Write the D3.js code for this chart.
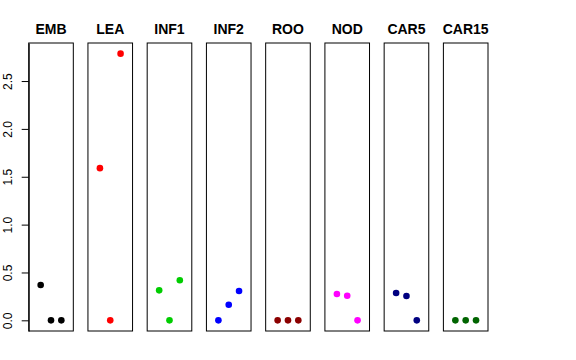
<!DOCTYPE html>
<html>
<head>
<meta charset="utf-8">
<script src="https://cdn.jsdelivr.net/npm/d3@7"></script>
<style>
  body { margin: 0; background: #fff; }
  text { font-family: "Liberation Sans", Arial, Helvetica, sans-serif; }
</style>
</head>
<body>
<div id="chart"></div>
<script>
// panels and their three values each
var panels = ["EMB", "LEA", "INF1", "INF2", "ROO", "NOD", "CAR5", "CAR15"];
var colors = ["#000000", "#FF0000", "#00CD00", "#0000FF", "#8B0000", "#FF00FF", "#000080", "#006400"];
var values = [
  [0.369, 0, 0],
  [1.59, 0, 2.786],
  [0.313, 0, 0.418],
  [0, 0.163, 0.306],
  [0, 0, 0],
  [0.275, 0.257, 0],
  [0.285, 0.254, 0],
  [0, 0, 0]
];
var yTicks = [0, 0.5, 1, 1.5, 2, 2.5];

var width = 576, height = 360;

var svg = d3.select("#chart")
  .append("svg")
    .attr("width", width)
    .attr("height", height);

// panel positions
var xp = d3.scaleBand()
    .domain(panels)
    .range([28.7, 488])
    .paddingInner(0.247)
    .paddingOuter(0);

// inside each panel: points at 1,2,3 on a 0..4 range (4% expanded)
var xi = d3.scaleLinear()
    .domain([-0.16, 4.16])
    .range([0, xp.bandwidth()]);

var y = d3.scaleLinear()
    .domain([-0.1115, 2.8975])
    .range([331, 43]);

// y axis on the left of the first panel
var yAxis = svg.append("g")
    .attr("transform", "translate(" + xp(panels[0]) + ",0)")
    .call(d3.axisLeft(y).tickValues(yTicks).tickFormat(d3.format(".1f")).tickSize(7).tickSizeOuter(0));
yAxis.select(".domain").attr("stroke", "#000");
yAxis.selectAll(".tick line").attr("stroke", "#000");
yAxis.selectAll(".tick text")
    .attr("font-size", 12)
    .attr("fill", "#000")
    .attr("text-anchor", "middle")
    .attr("transform", "rotate(-90)")
    .attr("x", 0)
    .attr("y", -17)
    .attr("dy", 0);

var g = svg.selectAll(".panel")
  .data(panels)
  .enter()
  .append("g")
    .attr("class", "panel")
    .attr("transform", function(d) { return "translate(" + xp(d) + ",0)"; });

g.append("rect")
    .attr("x", 0)
    .attr("y", y.range()[1])
    .attr("width", xp.bandwidth())
    .attr("height", y.range()[0] - y.range()[1])
    .attr("fill", "none")
    .attr("stroke", "#000")
    .attr("stroke-width", 1);

g.append("text")
    .attr("x", xp.bandwidth() / 2)
    .attr("y", 34)
    .attr("text-anchor", "middle")
    .attr("font-size", 14)
    .attr("font-weight", "bold")
    .text(function(d) { return d; });

g.each(function(d, i) {
  d3.select(this).selectAll("circle")
    .data(values[i])
    .enter()
    .append("circle")
      .attr("cx", function(v, j) { return xi(j + 1); })
      .attr("cy", function(v) { return y(v); })
      .attr("r", 3.3)
      .attr("fill", colors[i]);
});
</script>
</body>
</html>
